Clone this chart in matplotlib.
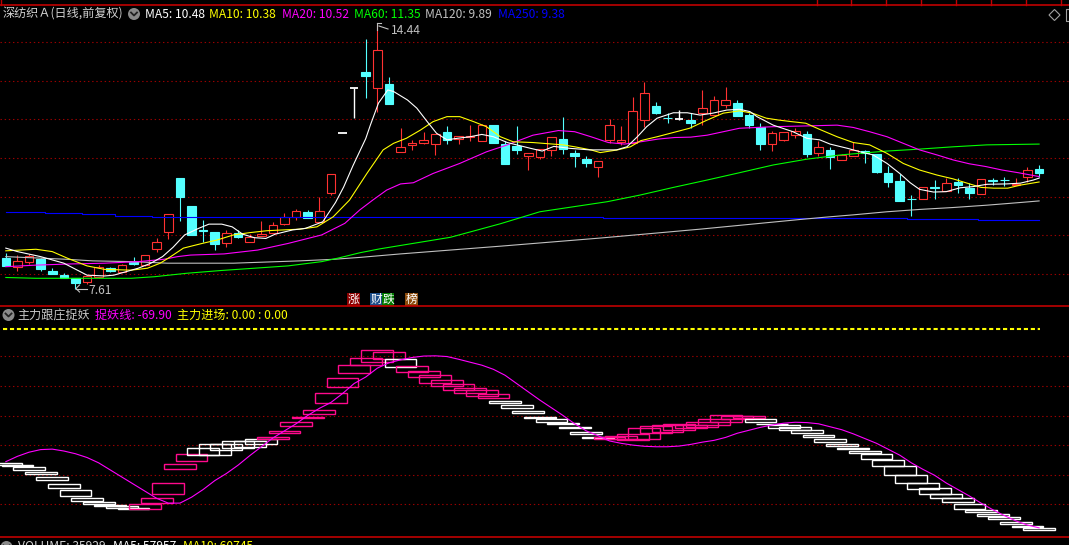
import numpy as np
import matplotlib
matplotlib.use('Agg')
import matplotlib.pyplot as plt
from matplotlib.patches import Rectangle, Circle, Polygon
from matplotlib.lines import Line2D
from matplotlib.transforms import Affine2D

plt.rcParams['lines.scale_dashes'] = False
CJK = ['Noto Sans CJK SC', 'DejaVu Sans']
plt.rcParams['font.family'] = CJK

W, H = 1069, 545

# ---------------- data ----------------
opens = [8.42, 8.19, 8.30, 8.39, 8.08, 7.97, 7.89, 7.79, 7.93, 8.15,
         8.06, 8.32, 8.23, 8.64, 9.09, 10.49, 9.76, 9.13, 9.09, 8.79,
         9.07, 8.82, 8.99, 9.07, 9.29, 9.48, 9.60, 9.35, 10.09, 11.65,
         12.82, 13.22, 12.82, 12.91, 11.15, 11.34, 11.40, 11.35, 11.67, 11.48,
         11.54, 11.45, 11.85, 11.36, 11.31, 11.06, 11.02, 11.21, 11.49, 11.14,
         10.97, 10.78, 11.47, 11.41, 11.40, 11.98, 12.35, 12.04, 12.00, 11.98,
         12.17, 12.11, 12.38, 12.42, 12.11, 11.81, 11.35, 11.47, 11.59, 11.61,
         11.14, 11.21, 10.95, 11.06, 11.17, 11.10, 10.60, 10.41, 9.94, 9.93,
         10.26, 10.15, 10.39, 10.22, 10.07, 10.42, 10.44, 10.30, 10.50, 10.72]
highs = [8.55, 8.49, 8.53, 8.42, 8.15, 8.02, 7.90, 7.97, 8.23, 8.17,
         8.25, 8.44, 8.50, 8.93, 9.55, 10.49, 9.76, 9.40, 9.09, 9.14,
         9.14, 9.03, 9.38, 9.35, 9.58, 9.69, 9.65, 9.98, 10.59, 11.65,
         12.82, 14.08, 14.44, 13.09, 11.78, 11.46, 11.67, 11.62, 11.82, 11.57,
         11.85, 11.87, 11.85, 11.45, 11.83, 11.12, 11.23, 11.54, 12.05, 11.21,
         11.05, 10.92, 12.00, 11.83, 12.59, 12.97, 12.44, 12.16, 12.23, 12.16,
         12.76, 12.60, 12.84, 12.50, 12.16, 11.90, 11.70, 11.67, 11.78, 11.70,
         11.45, 11.29, 11.10, 11.41, 11.21, 11.10, 10.79, 10.59, 10.04, 10.24,
         10.42, 10.48, 10.48, 10.35, 10.45, 10.49, 10.51, 10.49, 10.78, 10.82]
lows = [8.20, 8.07, 8.27, 8.08, 8.00, 7.90, 7.61, 7.75, 7.90, 8.05,
        8.05, 8.23, 8.20, 8.57, 8.90, 9.38, 9.00, 8.84, 8.63, 8.69,
        8.92, 8.82, 8.98, 9.05, 9.28, 9.39, 9.44, 9.35, 10.05, 11.65,
        12.04, 12.54, 12.20, 12.40, 11.15, 11.22, 11.36, 11.08, 11.36, 11.36,
        11.45, 11.45, 11.40, 10.84, 11.10, 10.69, 10.97, 11.05, 11.10, 10.78,
        10.78, 10.52, 11.40, 11.34, 11.40, 11.79, 12.13, 11.90, 11.98, 11.78,
        11.85, 12.11, 12.29, 12.09, 11.78, 11.20, 11.18, 11.44, 11.52, 11.03,
        11.05, 10.72, 10.95, 11.06, 10.88, 10.60, 10.26, 9.90, 9.50, 9.93,
        9.93, 10.15, 10.10, 9.93, 10.07, 10.30, 10.28, 10.30, 10.38, 10.50]
closes = [8.21, 8.34, 8.47, 8.12, 8.01, 7.91, 7.78, 7.96, 8.17, 8.09,
          8.23, 8.27, 8.48, 8.83, 9.55, 10.00, 9.00, 9.12, 8.77, 9.07,
          8.95, 8.95, 9.03, 9.26, 9.47, 9.63, 9.44, 9.63, 10.59, 11.65,
          12.82, 13.13, 13.79, 12.40, 11.28, 11.38, 11.47, 11.62, 11.47, 11.57,
          11.57, 11.85, 11.40, 10.84, 11.21, 11.12, 11.23, 11.54, 11.24, 11.05,
          10.88, 10.92, 11.85, 11.47, 12.22, 12.68, 12.16, 12.03, 12.00, 11.91,
          12.29, 12.50, 12.50, 12.09, 11.85, 11.37, 11.65, 11.67, 11.70, 11.10,
          11.28, 11.02, 11.07, 11.21, 11.12, 10.65, 10.39, 9.90, 9.93, 10.24,
          10.22, 10.35, 10.30, 10.10, 10.45, 10.41, 10.43, 10.33, 10.69, 10.60]

# moving average lines: (bar position, value)
ma5_pos = [0, 1, 3, 5, 7, 8.5, 9.3, 11.4, 12.5, 13.5, 14.4, 15.4, 16.6, 17.5, 18.6, 19.5,
           20.4, 21.4, 22.4, 23.2, 24.7, 25.8, 27.3, 28.4, 29.1, 29.9, 31.0, 31.4, 32.1, 32.9,
           33.4, 34.6, 35.4, 36.3, 37.1, 38, 38.9, 40, 41, 42, 43.2, 44, 45.2, 46.2, 47.2,
           48.6, 50.3, 52.6, 53.5, 54.4, 55.2, 56.1, 57.5, 58.7, 59.8, 60.9, 62.1, 63.2,
           64.1, 64.7, 66.1, 67.8, 69, 70.1, 71, 72.5, 73.6, 74.7, 75.9, 77, 77.9, 78.7,
           79.9, 81, 82.2, 83.3, 84.5, 86.2, 87.4, 88.5, 89]
ma5_val = [8.67, 8.58, 8.45, 8.28, 7.97, 7.95, 7.97, 8.15, 8.28, 8.45, 8.69, 9.01, 9.18, 9.29, 9.29, 9.22,
           9.03, 8.94, 8.92, 9.03, 9.14, 9.18, 9.35, 9.85, 10.25, 10.80, 11.50, 11.85, 12.42, 12.76,
           12.72, 12.50, 12.29, 11.94, 11.64, 11.47, 11.51, 11.55, 11.61, 11.55, 11.40, 11.34, 11.25, 11.18, 11.30,
           11.25, 11.21, 11.21, 11.29, 11.55, 11.81, 12.03, 12.17, 12.17, 12.11, 12.16, 12.24, 12.26,
           12.20, 12.07, 11.85, 11.68, 11.51, 11.47, 11.36, 11.25, 11.16, 11.08, 10.86, 10.60, 10.36, 10.19,
           10.12, 10.13, 10.23, 10.26, 10.32, 10.33, 10.35, 10.43, 10.48]

ma10_pos = [0, 2.6, 4, 5.3, 7, 8.5, 10.8, 12.2, 13.3, 14.2, 15.3, 16.9, 18.2, 19.6, 21, 22.5,
            23.9, 25.3, 26.8, 28.2, 29.6, 31.1, 32.5, 33.4, 34.5, 35.7, 36.8, 38, 39.1, 40.3,
            41.4, 42.6, 43.7, 45.4, 48, 49, 50.4, 51.2, 52.7, 53.8, 54.7, 56.1, 57.5, 58.9,
            60.4, 61.8, 63.2, 64.3, 65.5, 66.6, 67.7, 68.9, 70.1, 71.6, 73, 74.4, 75.9, 77.3,
            78.7, 80.2, 81.6, 82.8, 84, 85.1, 86.3, 87.4, 88.6, 89]
ma10_val = [8.60, 8.64, 8.58, 8.41, 8.21, 8.12, 8.10, 8.15, 8.28, 8.45, 8.67, 8.79, 8.88, 9.01, 9.07, 9.12,
            9.14, 9.16, 9.22, 9.48, 9.91, 10.60, 11.21, 11.38, 11.51, 11.72, 11.94, 12.07, 12.07, 11.94,
            11.81, 11.55, 11.42, 11.40, 11.34, 11.29, 11.21, 11.14, 11.21, 11.29, 11.45, 11.55, 11.66, 11.77,
            11.98, 12.16, 12.22, 12.16, 12.03, 11.98, 11.94, 11.90, 11.74, 11.55, 11.40, 11.34, 11.12, 10.86,
            10.69, 10.56, 10.46, 10.35, 10.24, 10.22, 10.22, 10.30, 10.36, 10.38]

ma20_pos = [0, 2.6, 5.5, 8.5, 11.4, 13.6, 14.8, 15.9, 18.8, 21.7, 24.3, 27.2, 29.2, 30.5, 31.6,
            32.8, 34, 35.1, 36.8, 39.1, 41.4, 43.2, 45.4, 47.6, 49, 50.4, 51.9, 53.3, 54.7, 56.2,
            57.6, 59, 60.4, 61.8, 63.2, 64.7, 66.1, 69, 71.6, 73, 74.4, 75.9, 77.3, 78.7, 80.2,
            81.6, 83, 84.4, 85.8, 87.2, 89]
ma20_val = [8.19, 8.23, 8.26, 8.28, 8.32, 8.38, 8.45, 8.49, 8.52, 8.62, 8.79, 9.01, 9.31, 9.66, 9.91,
            10.17, 10.33, 10.36, 10.60, 10.86, 11.16, 11.34, 11.59, 11.71, 11.68, 11.55, 11.40, 11.36, 11.42, 11.49,
            11.53, 11.54, 11.59, 11.68, 11.77, 11.79, 11.81, 11.83, 11.85, 11.79, 11.68, 11.55, 11.38, 11.21, 11.08,
            10.95, 10.85, 10.78, 10.69, 10.62, 10.52]

ma60_pos = [0, 2.6, 10.8, 12.8, 15.6, 18.5, 21.4, 24.3, 27.2, 28.6, 30.5, 32.2, 38.3, 42.6, 46,
            48.9, 51.8, 54.6, 57.5, 60.4, 63.2, 66.1, 69, 71.9, 75.9, 78.7, 81.6, 84.5, 89]
ma60_val = [7.91, 7.89, 7.89, 7.93, 8.02, 8.09, 8.15, 8.21, 8.32, 8.41, 8.55, 8.65, 8.95, 9.30, 9.61,
            9.74, 9.87, 10.04, 10.24, 10.43, 10.62, 10.82, 10.97, 11.08, 11.18, 11.23, 11.29, 11.34, 11.36]

ma120_pos = [0, 5.3, 7.5, 11, 13.9, 19.6, 25.3, 28.2, 30.5, 34, 42.6, 51.2, 59.8, 68.4, 70.6,
             73, 75.9, 78.7, 81.6, 84.5, 87.4, 89]
ma120_val = [8.45, 8.38, 8.34, 8.32, 8.28, 8.28, 8.34, 8.38, 8.43, 8.52, 8.72, 8.93, 9.16, 9.41, 9.47,
             9.53, 9.61, 9.67, 9.72, 9.78, 9.85, 9.89]

ma250_pos = [0, 3.4, 3.4, 6.6, 6.6, 9.4, 9.4, 12.6, 12.6, 17.4, 17.4, 51.4, 51.4, 77.6, 77.6, 83.7, 83.7, 89]
ma250_val = [9.60, 9.60, 9.57, 9.57, 9.55, 9.55, 9.51, 9.51, 9.48, 9.48, 9.465, 9.465, 9.44, 9.44, 9.41, 9.41, 9.385, 9.385]

# lower indicator: 捉妖线 per bar
zy_line = [-14, -9.5, -6, -3.8, -3.4, -5, -7.3, -10.5, -15, -21,
           -27, -33, -39, -45, -49, -49, -44, -37.5, -30, -24,
           -17, -9, -1.5, 6, 12, 18, 25, 31, 36, 43.5,
           52, 57.5, 65, 69.5, 72, 74, 75.2, 75.4, 74.8, 72.5,
           70, 67.5, 64, 59, 52, 45, 38, 31.5, 25, 18,
           12, 8, 3.5, 1.5, 0, -1, -1.4, -1.4, -0.8, 0.6,
           2.5, 4, 6.5, 10, 12.5, 15, 17, 18.5, 19.3, 19,
           18, 15.5, 13, 9.5, 5.5, 1.5, -3.5, -8.5, -15, -20.5,
           -25.5, -32, -37.5, -43, -49, -54.5, -59.5, -64, -67.5, -69.9]
# box bands per bar (low, high) and colour flag (1 = rising/pink, 0 = falling/white)
box_lo = [-16.6, -17.6, -21.3, -24.3, -29.2, -36.0, -42.7, -47.0, -49.5, -51.2,
          -52.9, -53.6, -53.7, -48.9, -41.6, -19.9, -13.2, -8.1, -8.1, -4.4,
          -2.7, -1.4, 1.2, 5.4, 10.5, 16.4, 23.2, 26.5, 35.8, 49.3,
          61.2, 67.9, 70.5, 73.0, 66.2, 61.5, 57.3, 52.7, 50.2, 46.8,
          44.3, 41.2, 40.0, 35.8, 31.6, 27.4, 23.2, 19.8, 18.1, 14.7,
          9.6, 6.3, 5.4, 5.0, 4.1, 5.4, 10.0, 11.3, 12.8, 14.2,
          15.0, 17.0, 19.3, 21.8, 22.6, 19.8, 17.5, 14.7, 12.8, 10.5,
          7.1, 2.9, -0.5, -3.0, -6.4, -11.5, -17.4, -25.0, -31.8, -36.8,
          -41.0, -44.4, -48.3, -53.7, -56.2, -59.6, -62.4, -66.6, -68.9, -71.7]
box_hi = [-14.9, -17.0, -18.5, -23.0, -27.0, -32.9, -37.9, -44.7, -48.1, -50.6,
          -51.4, -52.8, -49.5, -44.7, -32.3, -16.2, -7.5, -2.4, 0.9, 0.7,
          3.2, 3.2, 5.2, 6.8, 11.9, 19.3, 23.8, 29.6, 44.0, 56.4,
          67.7, 73.3, 80.1, 78.4, 72.5, 66.6, 62.3, 59.0, 54.7, 51.6,
          48.0, 46.3, 42.9, 37.2, 33.9, 28.8, 23.8, 22.0, 18.7, 15.3,
          11.1, 6.9, 6.6, 7.5, 9.1, 14.2, 16.1, 17.0, 17.8, 17.2,
          19.5, 22.0, 25.4, 24.8, 24.6, 21.8, 18.1, 16.7, 15.0, 12.8,
          8.5, 5.2, 0.9, -2.4, -5.0, -7.8, -12.6, -17.7, -25.5, -32.3,
          -36.5, -41.3, -44.7, -49.7, -54.8, -57.9, -60.7, -64.7, -68.3, -70.0]
box_up = [0, 0, 0, 0, 0, 0, 0, 0, 0, 0,
          0, 0, 1, 1, 1, 1, 1, 0, 0, 0,
          0, 0, 0, 1, 1, 1, 1, 1, 1, 1,
          1, 1, 1, 1, 0, 1, 1, 1, 1, 1,
          1, 1, 1, 0, 0, 0, 0, 0, 0, 0,
          0, 0, 1, 1, 1, 1, 1, 1, 1, 1,
          1, 1, 1, 1, 1, 0, 0, 0, 0, 0,
          0, 0, 0, 0, 0, 0, 0, 0, 0, 0,
          0, 0, 0, 0, 0, 0, 0, 0, 0, 0]

price_grid = [14, 13, 12, 11, 10, 9, 8]
ind_grid = [75, 50, 25, 0, -25, -50]

# ---------------- figure ----------------
fig = plt.figure(figsize=(W / 100, H / 100), dpi=100)
fig.patch.set_facecolor('black')
PX = Affine2D().scale(1.0 / W, -1.0 / H).translate(0, 1) + fig.transFigure

RED = '#ff3232'
CYAN = '#54ffff'
GRID = '#9a0000'
SEP = '#c00000'
LW = 0.8

n = len(closes)
XL = (-5.8 / 11.61, (W - 5.8) / 11.61)

def price_of(ypx):
    return 14 - (ypx - 42) / 38.67

def ind_of(ypx):
    return 75 - (ypx - 356.3) / 1.184

# price panel
ax = fig.add_axes([0, (H - 304) / H, 1, (304 - 8) / H])
ax.set_xlim(*XL)
ax.set_ylim(price_of(304), price_of(8))
ax.axis('off')
for g in price_grid:
    ax.axhline(g, color=GRID, lw=0.8, ls=(0, (1.0, 2.0)), zorder=1)

bw = 0.74
for i in range(n):
    o, h, l, c = opens[i], highs[i], lows[i], closes[i]
    if c > o:
        ax.add_patch(Rectangle((i - bw / 2, o), bw, c - o, facecolor='black',
                               edgecolor=RED, lw=LW, zorder=2))
        ax.vlines(i, c, h, color=RED, lw=LW, zorder=2)
        ax.vlines(i, l, o, color=RED, lw=LW, zorder=2)
    elif c < o:
        ax.vlines(i, l, h, color=CYAN, lw=LW, zorder=2)
        ax.add_patch(Rectangle((i - bw / 2, c), bw, o - c, facecolor=CYAN,
                               edgecolor=CYAN, lw=LW, zorder=2))
    else:
        ax.vlines(i, l, h, color='white', lw=1.0, zorder=2)
        ax.hlines(o, i - bw / 2, i + bw / 2, color='white', lw=1.3, zorder=2)

for pos, val, col in [(ma250_pos, ma250_val, '#0000ff'),
                      (ma120_pos, ma120_val, '#c0c0c0'),
                      (ma60_pos, ma60_val, '#00ff00'),
                      (ma20_pos, ma20_val, '#ff00ff'),
                      (ma10_pos, ma10_val, '#ffff00'),
                      (ma5_pos, ma5_val, '#ffffff')]:
    ax.plot(pos, val, color=col, lw=0.8, zorder=3)

# indicator panel
ax2 = fig.add_axes([0, (H - 536) / H, 1, (536 - 332) / H])
ax2.set_xlim(*XL)
ax2.set_ylim(ind_of(536), ind_of(332))
ax2.axis('off')
for g in ind_grid:
    ax2.axhline(g, color=GRID, lw=0.8, ls=(0, (1.0, 2.0)), zorder=1)
for i in range(n):
    col = '#ff0a8c' if box_up[i] else '#ffffff'
    ax2.add_patch(Rectangle((i - 1 - bw / 2, box_lo[i]), 2 + bw, box_hi[i] - box_lo[i],
                            fill=False, edgecolor=col, lw=1.0, zorder=2))
ax2.plot(np.arange(n), zy_line, color='#ff00ff', lw=0.8, zorder=3)

# ---------------- overlay (pixel coords) ----------------
def line(xs, ys, color, lw=0.8, **kw):
    fig.add_artist(Line2D(xs, ys, color=color, lw=lw, transform=PX, **kw))

def text(x, y, s, color, size=8.7, va='center', **kw):
    fig.text(x, y, s, color=color, fontsize=size, va=va, ha='left',
             transform=PX, family=CJK, **kw)

def icon(cx, cy):
    fig.add_artist(Circle((cx, cy), 6, transform=PX, facecolor='#8a8a8a', edgecolor='none'))
    line([cx - 3, cx, cx + 3], [cy - 1.5, cy + 1.5, cy - 1.5], '#222222', lw=1.3)

# separators
line([0, W], [4.5, 4.5], SEP, lw=1.2)
line([0.5, 0.5], [0, 4.5], SEP, lw=1.0)
for tx in [817, 851, 886, 921, 956, 991, 1026, 1061]:
    line([tx, tx], [0, 4.5], SEP, lw=1.0)
line([0, W], [306, 306], SEP, lw=1.2)
line([0, W], [537, 537], SEP, lw=1.2)

# title row
text(3, 14, '深纺织Ａ(日线,前复权)', '#d0d0d0')
icon(134, 14)
text(145, 14, 'MA5: 10.48', '#ffffff')
text(209, 14, 'MA10: 10.38', '#ffff00')
text(282, 14, 'MA20: 10.52', '#ff00ff')
text(354, 14, 'MA60: 11.35', '#00ff00')
text(425, 14, 'MA120: 9.89', '#c0c0c0')
text(498, 14, 'MA250: 9.38', '#0000ff')
fig.add_artist(Polygon([(1049, 15), (1054.5, 9.5), (1060, 15), (1054.5, 20.5)], closed=True,
                       fill=False, edgecolor='#a0a0a0', lw=0.8, transform=PX))
line([1069, 1066, 1066, 1069], [9, 9, 21, 21], '#a0a0a0', lw=0.8)

# high / low markers
line([377, 377], [23, 30], '#c0c0c0')
line([377, 381], [23, 23], '#c0c0c0')
line([379, 388], [26, 29], '#c0c0c0')
text(391, 31, '14.44', '#c0c0c0')
line([76, 87], [288.5, 288.5], '#c0c0c0')
line([79.5, 76, 79.5], [285, 288.5, 292], '#c0c0c0')
text(88, 290, '7.61', '#c0c0c0')

# event markers
for (x0, x1, ch, bg) in [(347, 360, '涨', '#8b0000'), (370, 382, '财', '#1d4e89'),
                         (382, 394, '跌', '#007a00'), (405, 418, '榜', '#8b4a0b')]:
    fig.add_artist(Rectangle((x0, 293), x1 - x0, 12.5, transform=PX, facecolor=bg, edgecolor='none'))
    text(x0 + 0.5, 299.5, ch, '#ffffff', size=8.5)

# indicator header
icon(8.5, 315)
text(17, 315, '主力跟庄捉妖', '#c8c8c8')
text(95, 315, '捉妖线: -69.90', '#ff00ff')
text(177, 315, '主力进场: 0.00 : 0.00', '#ffff00')
line([3, 1040], [328.6, 328.6], '#ffff00', lw=1.5, ls=(0, (3.0, 2.0)))

# volume header (cut by the bottom edge, as in the reference)
icon(6.5, 547)
text(18, 539.5, 'VOLUME: 35929', '#d0d0d0', va='top')
text(113, 539.5, 'MA5: 57957', '#ffffff', va='top')
text(183, 539.5, 'MA10: 60745', '#ffff00', va='top')

fig.savefig('out.png', dpi=100, facecolor='black')
